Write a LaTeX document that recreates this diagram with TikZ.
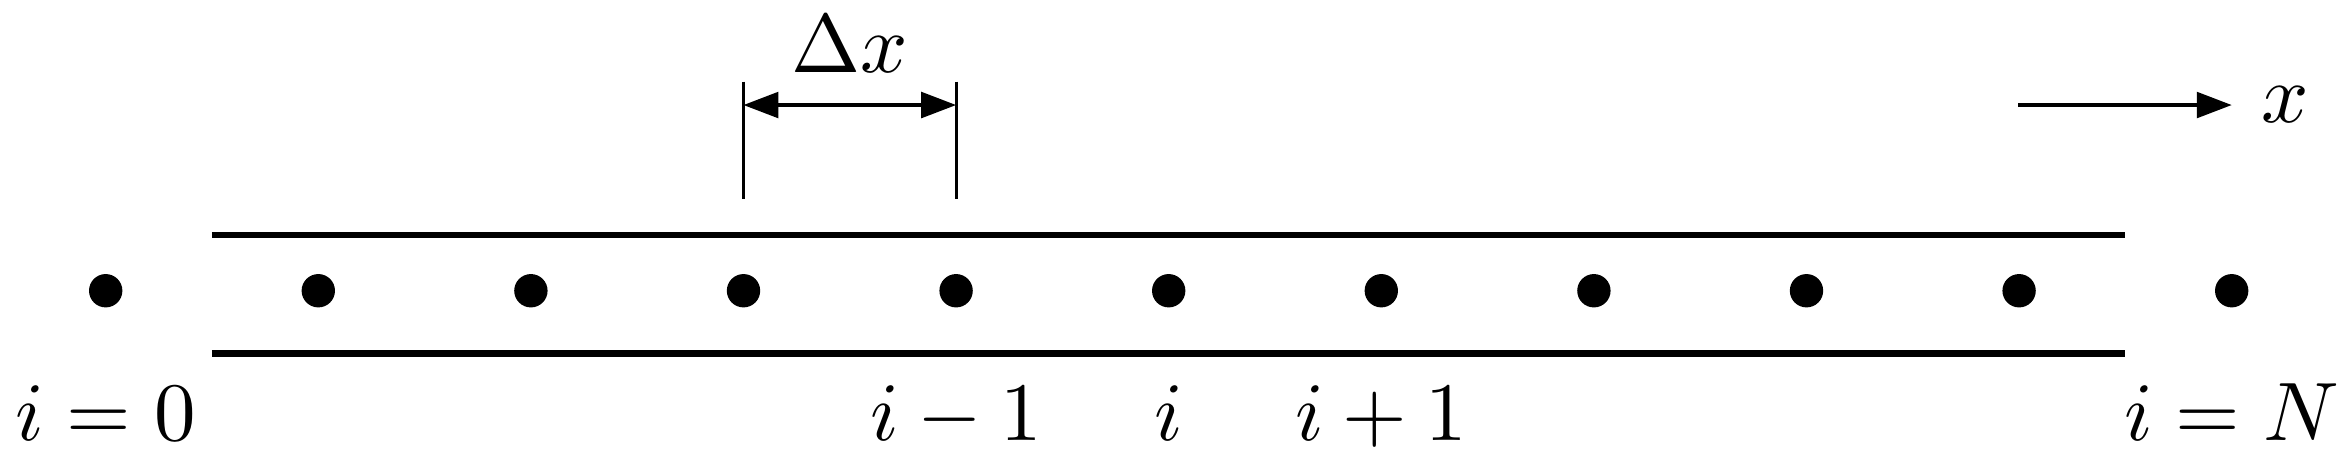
\documentclass[tikz,border=0pt]{standalone}
\usetikzlibrary{arrows.meta}
\begin{document}
\begin{tikzpicture}[x=0.12048pt, y=-0.12048pt,
  dot/.style={circle, fill=black, inner sep=0pt, minimum size=4.02pt},
  wall/.style={line width=0.81pt},
  thin/.style={line width=0.38pt},
  tip/.style={-{Triangle[length=4.2pt,width=3.1pt]}},
  dimtip/.style={{Triangle[length=4.2pt,width=3.1pt]}-{Triangle[length=4.2pt,width=3.1pt]}},
  lbl/.style={anchor=base, inner sep=0pt}]
\useasboundingbox (0,0) rectangle (2350,470);
% grid points
\foreach \k in {0,...,10} {
  \node[dot] (d\k) at ({105.7+212.6*\k},290.7) {};
}
% walls
\coordinate (wtl) at (211.9,235);
\coordinate (wtr) at (2125,235);
\coordinate (wbl) at (211.9,353.5);
\coordinate (wbr) at (2125,353.5);
\draw[wall] (wtl) -- (wtr);
\draw[wall] (wbl) -- (wbr);
% Delta x dimension
\coordinate (e1t) at (743.5,81.7);
\coordinate (e1b) at (743.5,199.3);
\coordinate (e2t) at (956.1,81.7);
\coordinate (e2b) at (956.1,199.3);
\draw[thin] (e1t) -- (e1b);
\draw[thin] (e2t) -- (e2b);
\coordinate (a1) at (743.5,105);
\coordinate (a2) at (956.1,105);
\draw[thin, dimtip] (a1) -- (a2);
\node[lbl] (dx) at (849.8,72) {$\Delta x$};
% x axis arrow
\coordinate (ax1) at (2018.3,105);
\coordinate (ax2) at (2231.7,105);
\draw[thin, tip] (ax1) -- (ax2);
\node[anchor=west] (xl) at (ax2) {$x$};
% labels
\node[lbl] (l0) at (105.7,440) {$i=0$};
\node[lbl] (l4) at (956.1,440) {$i-1$};
\node[lbl] (l5) at (1168.7,440) {$i$};
\node[lbl] (l6) at (1381.3,440) {$i+1$};
\node[lbl] (l10) at (2231.7,440) {$i=N$};
\end{tikzpicture}
\end{document}
